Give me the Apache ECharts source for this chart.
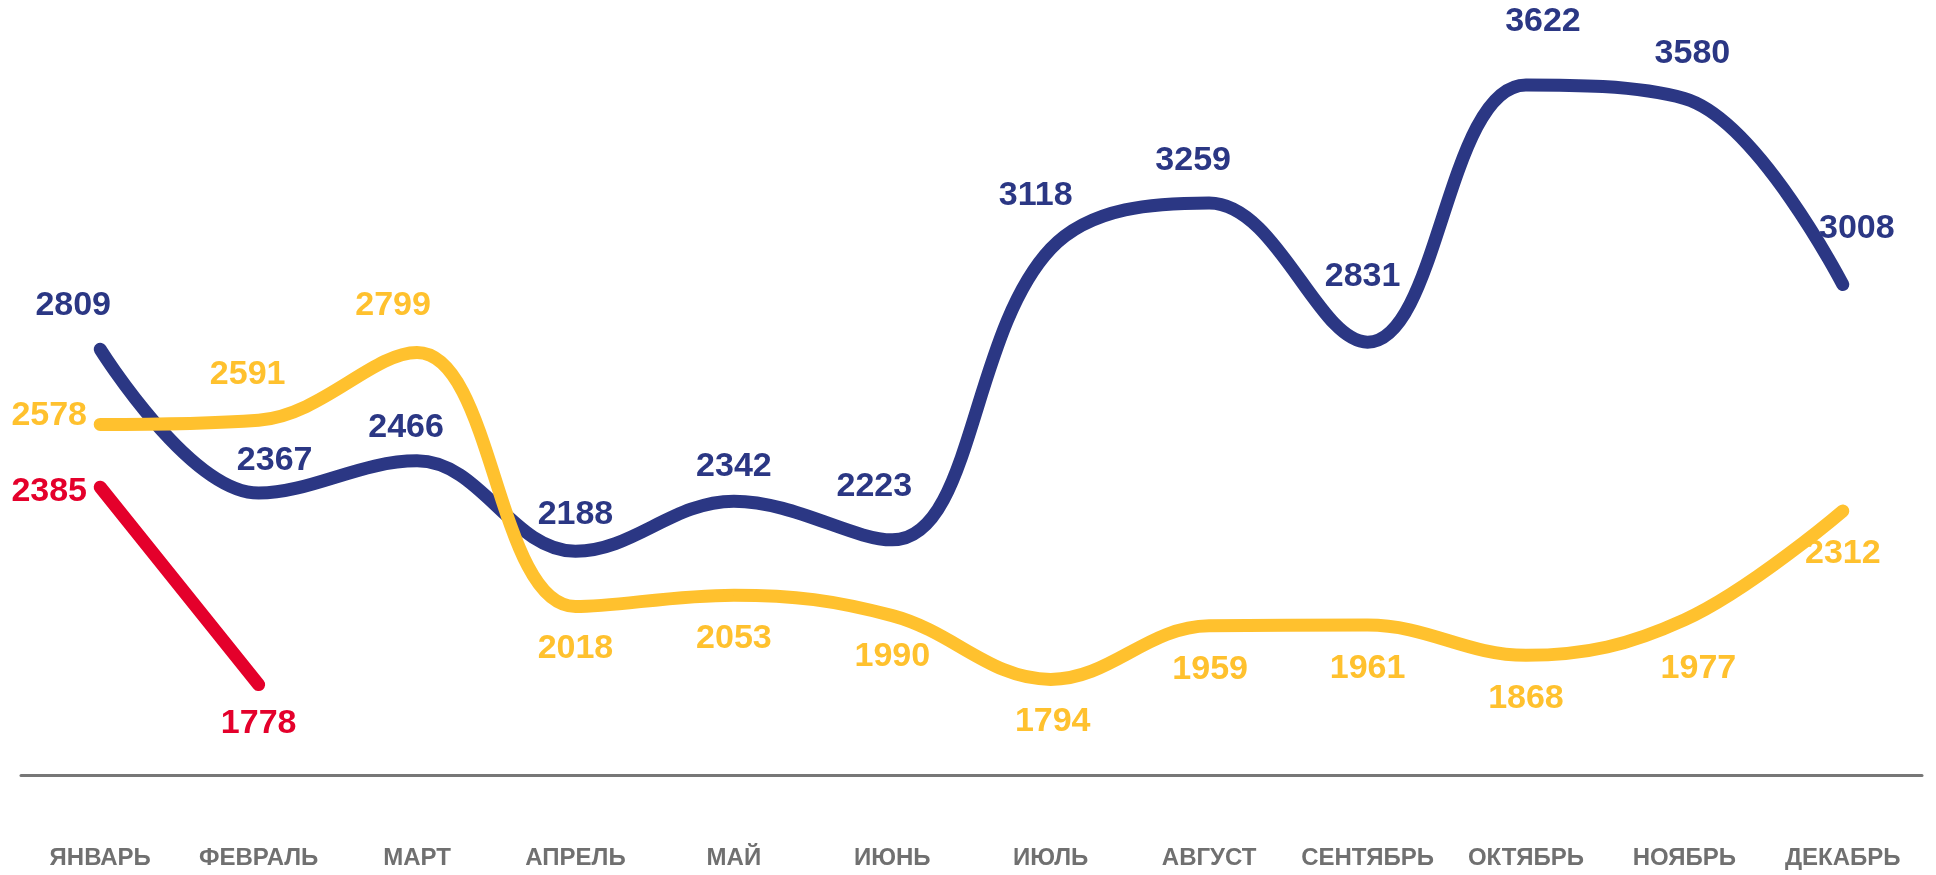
<!DOCTYPE html>
<html>
<head>
<meta charset="utf-8">
<script src="https://cdn.jsdelivr.net/npm/echarts@6/dist/echarts.min.js"></script>
<style>
    html, body {margin:0; padding:0; background:#ffffff;}
    #main {width:1936px; height:875px;}
</style>
</head>
<body>
<div id="main"></div>
<script>
// months on the x axis
var months = ['ЯНВАРЬ','ФЕВРАЛЬ','МАРТ','АПРЕЛЬ','МАЙ','ИЮНЬ','ИЮЛЬ','АВГУСТ','СЕНТЯБРЬ','ОКТЯБРЬ','НОЯБРЬ','ДЕКАБРЬ'];

// series values
var blueValues = [2809, 2367, 2466, 2188, 2342, 2223, 3118, 3259, 2831, 3622, 3580, 3008];
var yellowValues = [2578, 2591, 2799, 2018, 2053, 1990, 1794, 1959, 1961, 1868, 1977, 2312];
var redValues = [2385, 1778];

// label offsets from the point (px), label placement only
var blueOffsets = [[-27,-44],[16,-32],[-11,-33],[0,-37],[0,-35],[-18,-53],[-15,-53],[-16,-42],[-5,-66],[17,-63],[8,-45],[14,-56]];
var yellowOffsets = [[-51,-9],[-11,-46],[-24,-47],[0,42],[0,43],[0,41],[2,42],[1,44],[0,44],[0,43],[14,49],[0,43]];
var redOffsets = [[-51,4],[0,39]];

var BLUE = '#2b3784', YELLOW = '#ffc12e', RED = '#e4002b';

function withLabels(values, offsets){
    return values.map(function(v, i){
        return {value: v, label: {offset: offsets[i]}};
    });
}

function makeSeries(name, values, offsets, color, smooth, z){
    return {
        name: name,
        type: 'line',
        data: withLabels(values, offsets),
        smooth: smooth,
        z: z,
        symbol: 'circle',
        symbolSize: 0.1,
        itemStyle: {color: color},
        lineStyle: {color: color, width: 13, cap: 'round', join: 'round'},
        label: {
            show: true,
            position: 'inside',
            color: color,
            fontFamily: 'Liberation Sans, Arial, sans-serif',
            fontWeight: 'bold',
            fontSize: 34
        },
        emphasis: {disabled: true},
        animation: false
    };
}

var myChart = echarts.init(document.getElementById('main'));
var option = {
    backgroundColor: '#ffffff',
    grid: {left: 21, right: 14, top: 27, bottom: 100},
    xAxis: {
        type: 'category',
        data: months,
        boundaryGap: true,
        axisLine: {lineStyle: {color: '#777777', width: 3}},
        axisTick: {show: false},
        axisLabel: {
            color: '#707070',
            fontFamily: 'Liberation Sans, Arial, sans-serif',
            fontWeight: 'bold',
            fontSize: 24,
            margin: 71,
            interval: 0
        }
    },
    yAxis: {
        type: 'value',
        min: 1500,
        max: 3800,
        show: false,
        splitLine: {show: false}
    },
    series: [
        makeSeries('red', redValues, redOffsets, RED, false, 2),
        makeSeries('blue', blueValues, blueOffsets, BLUE, 0.38, 3),
        makeSeries('yellow', yellowValues, yellowOffsets, YELLOW, 0.38, 4)
    ]
};

if (option && typeof option === "object") {
    myChart.setOption(option, true);
}
</script>
</body>
</html>
